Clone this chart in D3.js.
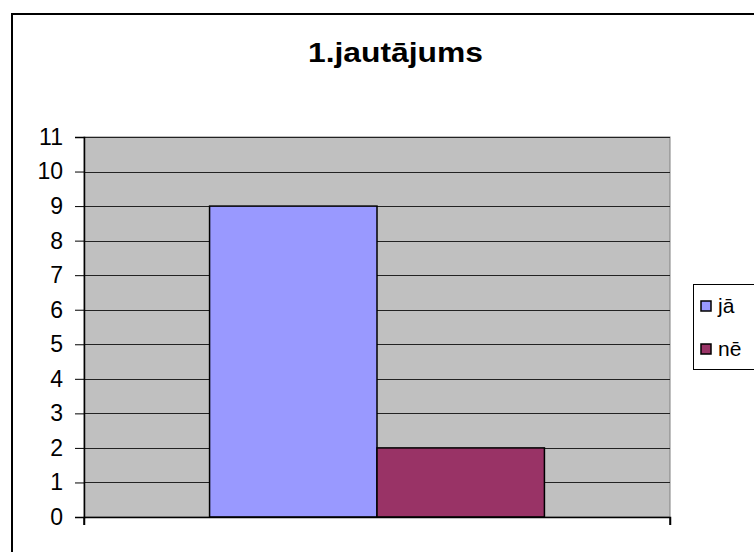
<!DOCTYPE html>
<html><head><meta charset="utf-8">
<script src="https://cdn.jsdelivr.net/npm/d3@7"></script>
<style>body{margin:0;background:#fff}svg{display:block}text{font-family:"Liberation Sans",Arial,sans-serif}</style>
</head><body>
<svg id="c" width="754" height="552"></svg>
<script>
const title = "1.jautājums";
const categories = [""];
const seriesNames = ["jā", "nē"];
const seriesValues = [[9], [2]];
const seriesColors = ["#9999FF", "#993366"];
const yTicks = [0,1,2,3,4,5,6,7,8,9,10,11];

const svg = d3.select("#c");
// outer chart border
svg.append("rect").attr("x",12).attr("y",14).attr("width",760).attr("height",560)
  .attr("fill","#fff").attr("stroke","#000").attr("stroke-width",2);

const m = {left:84, right:670, top:137, bottom:517};
const x0 = d3.scaleBand().domain(categories).range([m.left, m.right]).paddingInner(0).paddingOuter(0);
const y = d3.scaleLinear().domain([0,11]).range([m.bottom, m.top]);
const bw = x0.bandwidth();
const barW = bw / (seriesNames.length + 1.5);
const x1 = d3.scaleBand().domain(seriesNames).range([0.75*barW, bw-0.75*barW]).padding(0);

svg.append("rect").attr("x",m.left).attr("y",m.top).attr("width",m.right-m.left).attr("height",m.bottom-m.top)
  .attr("fill","#C0C0C0").attr("stroke","#808080").attr("stroke-width",1);

// gridlines
svg.append("g").selectAll("line").data(yTicks.filter(d=>d>0)).join("line")
  .attr("x1",m.left).attr("x2",m.right).attr("y1",d=>Math.round(y(d))+0.5).attr("y2",d=>Math.round(y(d))+0.5)
  .attr("stroke","#222").attr("stroke-width",1);

// bars
categories.forEach((c,ci)=>{
  seriesNames.forEach((s,si)=>{
    const v = seriesValues[si][ci];
    svg.append("rect")
      .attr("x", x0(c)+x1(s)).attr("y", y(v))
      .attr("width", x1.bandwidth()).attr("height", y(0)-y(v))
      .attr("fill", seriesColors[si]).attr("stroke","#000").attr("stroke-width",1.5);
  });
});

// y axis
const ya = d3.axisLeft(y).tickValues(yTicks).tickSize(9).tickPadding(12).tickFormat(d3.format("d"));
const gy = svg.append("g").attr("transform",`translate(${m.left},0)`).call(ya);
gy.select(".domain").attr("stroke","#000").attr("stroke-width",1.5);
gy.selectAll(".tick line").attr("stroke","#000");
gy.selectAll("text").attr("font-size",23).attr("fill","#000").attr("font-family","Liberation Sans, Arial, sans-serif");

// x axis
const xa = d3.axisBottom(x0).tickValues([]).tickSizeOuter(8);
const gx = svg.append("g").attr("transform",`translate(0,${m.bottom})`).call(xa);
gx.select(".domain").attr("stroke","#000").attr("stroke-width",1.5);
svg.append("g").selectAll("line").data([m.left, m.right]).join("line")
  .attr("x1",d=>d).attr("x2",d=>d).attr("y1",m.bottom).attr("y2",m.bottom+8).attr("stroke","#000").attr("stroke-width",1.5);

// title
svg.append("text").attr("x",395.5).attr("y",62).attr("text-anchor","middle")
  .attr("font-size",27).attr("font-weight","bold")
  .attr("textLength",175).attr("lengthAdjust","spacingAndGlyphs").text(title);

// legend
const lg = svg.append("g");
lg.append("rect").attr("x",693.5).attr("y",284.5).attr("width",80).attr("height",85)
  .attr("fill","#fff").attr("stroke","#000").attr("stroke-width",1);
seriesNames.forEach((s,i)=>{
  const cy = 306 + i*43;
  lg.append("rect").attr("x",701).attr("y",cy-5).attr("width",10).attr("height",10)
    .attr("fill",seriesColors[i]).attr("stroke","#000").attr("stroke-width",1.5);
  lg.append("text").attr("x",718).attr("y",cy+7).attr("font-size",21).text(s);
});
</script>
</body></html>
